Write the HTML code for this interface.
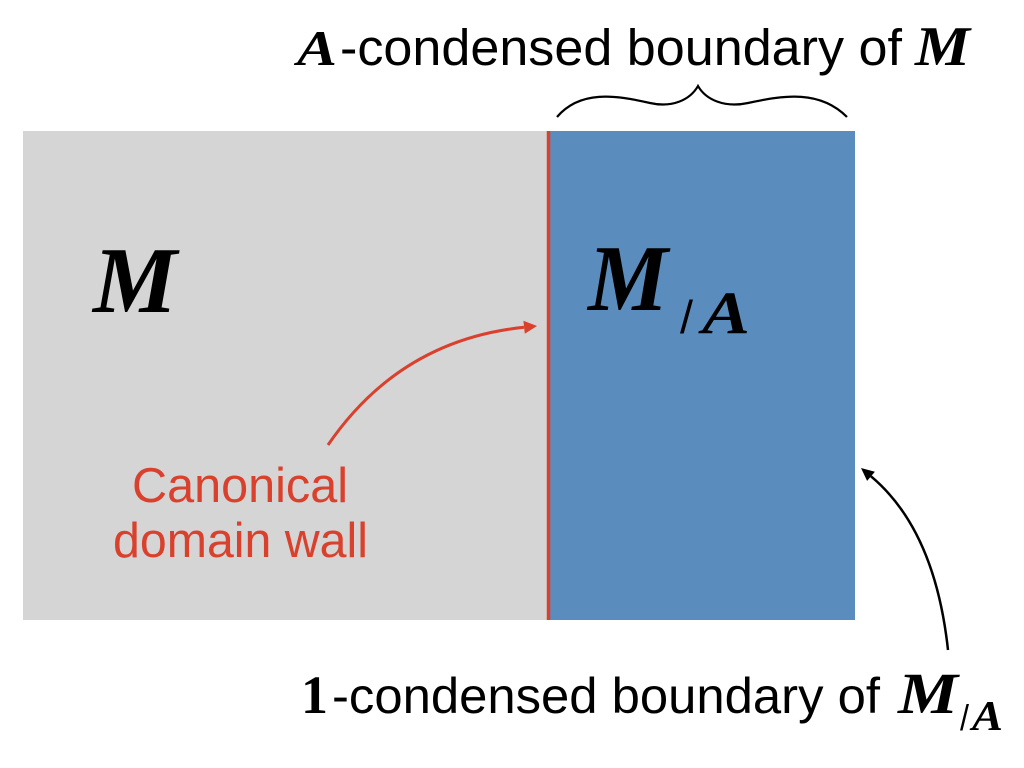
<!DOCTYPE html>
<html>
<head>
<meta charset="utf-8">
<style>
  html, body { margin:0; padding:0; background:#ffffff; }
  svg { display:block; }
  .sans { font-family: "Liberation Sans", "DejaVu Sans", sans-serif; }
  .script { font-family: "Liberation Serif", "DejaVu Serif", serif; font-style: italic; }
  .scriptb { font-family: "Liberation Serif", "DejaVu Serif", serif; font-style: italic; font-weight: bold; }
  .bold1 { font-family: "Liberation Serif", "DejaVu Serif", serif; font-weight: bold; }
</style>
</head>
<body>
<svg width="1024" height="768" viewBox="0 0 1024 768" xmlns="http://www.w3.org/2000/svg">
  <rect x="0" y="0" width="1024" height="768" fill="#ffffff"/>

  <!-- regions -->
  <rect x="23" y="131" width="526" height="489" fill="#d5d5d5"/>
  <rect x="549" y="131" width="306" height="489" fill="#5b8cbe"/>
  <!-- domain wall -->
  <line x1="548.5" y1="131" x2="548.5" y2="620" stroke="#d9412d" stroke-width="3.5"/>

  <!-- top label -->
  <text class="scriptb" x="297" y="65" font-size="50" textLength="40" lengthAdjust="spacingAndGlyphs">A</text>
  <text class="sans" x="340" y="65" font-size="51" textLength="562" lengthAdjust="spacingAndGlyphs">-condensed boundary of</text>
  <text class="scriptb" x="915" y="65" font-size="56" textLength="55" lengthAdjust="spacingAndGlyphs">M</text>

  <!-- brace -->
  <path d="M557,117 C580,90 615,95 650,103 C672,108 690,100 698,86 C706,100 725,108 748,103 C785,95 820,90 847,117" fill="none" stroke="#000" stroke-width="2.2"/>

  <!-- M in gray -->
  <text class="scriptb" x="93" y="312" font-size="94" textLength="84" lengthAdjust="spacingAndGlyphs">M</text>

  <!-- M/A in blue -->
  <text class="scriptb" x="588" y="310" font-size="94" textLength="80" lengthAdjust="spacingAndGlyphs">M</text>
  <text class="sans" x="680" y="333" font-size="46" textLength="13" lengthAdjust="spacingAndGlyphs">/</text>
  <text class="scriptb" x="702" y="333" font-size="60" textLength="48" lengthAdjust="spacingAndGlyphs">A</text>

  <!-- red arrow -->
  <path d="M328,445 Q400,340 524,327.3" fill="none" stroke="#d9412d" stroke-width="3"/>
  <polygon points="537,326 524.8,333.8 523.4,320.8" fill="#d9412d"/>

  <!-- Canonical domain wall -->
  <text class="sans" x="132" y="502" font-size="49" fill="#d9412d" textLength="216" lengthAdjust="spacingAndGlyphs">Canonical</text>
  <text class="sans" x="113" y="557" font-size="49" fill="#d9412d" textLength="255" lengthAdjust="spacingAndGlyphs">domain wall</text>

  <!-- black arrow -->
  <path d="M948,650 Q935,530 871,476.3" fill="none" stroke="#000" stroke-width="2.5"/>
  <polygon points="861,468 874.9,471.7 867.1,480.9" fill="#000"/>

  <!-- bottom label -->
  <text class="bold1" x="301" y="713" font-size="54" textLength="27" lengthAdjust="spacingAndGlyphs">1</text>
  <text class="sans" x="332" y="713" font-size="50" textLength="548" lengthAdjust="spacingAndGlyphs">-condensed boundary of</text>
  <text class="scriptb" x="898" y="713" font-size="58" textLength="60" lengthAdjust="spacingAndGlyphs">M</text>
  <text class="sans" x="960" y="730" font-size="36" textLength="9" lengthAdjust="spacingAndGlyphs">/</text>
  <text class="scriptb" x="972" y="730" font-size="42" textLength="31" lengthAdjust="spacingAndGlyphs">A</text>
</svg>
</body>
</html>
